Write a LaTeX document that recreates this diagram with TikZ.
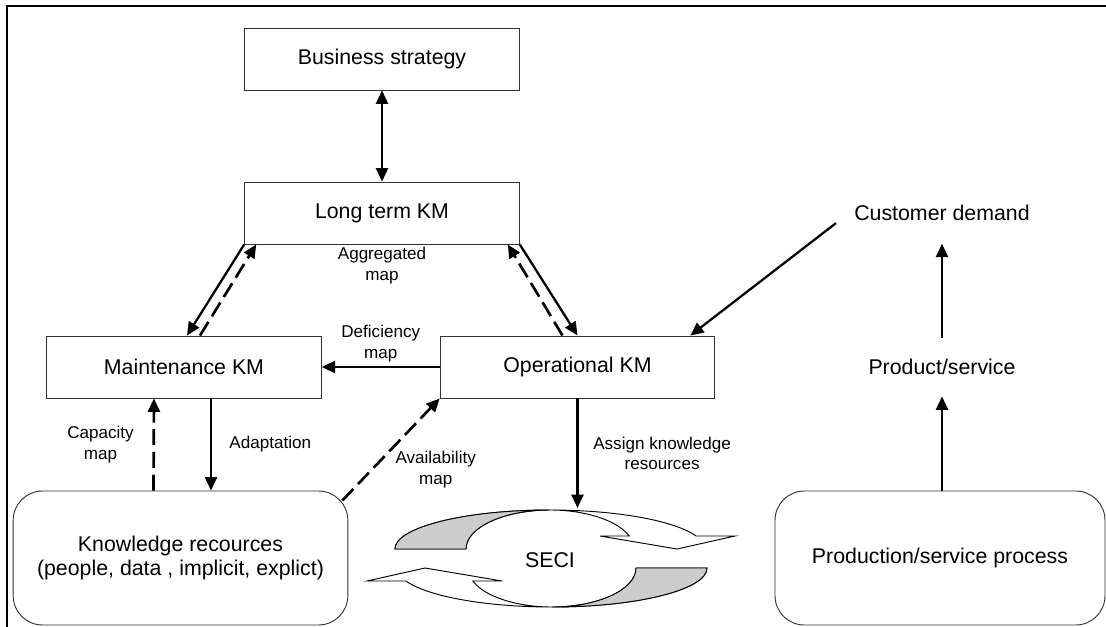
\documentclass[tikz,border=0pt]{standalone}
\usepackage{fontspec}
\setmainfont{Liberation Sans}
\usetikzlibrary{positioning,arrows.meta,calc}

\begin{document}
\begin{tikzpicture}[
  x=0.75pt, y=-0.75pt,
  every node/.style={font=\fontsize{12.8pt}{15.5pt}\selectfont},
  box/.style={rectangle, draw=black!80, line width=0.7pt,
              minimum width=206pt, minimum height=46.5pt,
              font=\fontsize{16pt}{18.5pt}\selectfont},
  rbox/.style={rectangle, draw=black!80, line width=0.7pt,
               rounded corners=22pt, minimum height=100.5pt,
               align=center, font=\fontsize{16pt}{18.5pt}\selectfont},
  txt/.style={font=\fontsize{16pt}{18.5pt}\selectfont, inner sep=0pt},
  lbl/.style={align=center, inner sep=1pt},
  flowarrow/.style={-{Triangle[length=10pt,width=9pt]}, line width=1.7pt},
  dblarrow/.style={{Triangle[length=10pt,width=9pt]}-{Triangle[length=10pt,width=9pt]}, line width=1.7pt},
  maparrow/.style={flowarrow, line width=2pt, dash pattern=on 12pt off 5pt},
  band/.style={draw=black, line width=0.7pt, fill=white}
]
\useasboundingbox (0,0) rectangle (1106,627);
\draw[line width=2.2pt] (7,627) -- (7,6) -- (1106,6);

\node[box]                        (bs)  at (382,59)    {Business strategy};
\node[box]                        (lt)  at (382,213)   {Long term KM};
\node[box]                        (mk)  at (184,367)   {Maintenance KM};
\node[box]                        (op)  at (577.5,367) {Operational KM};
\node[rbox, minimum width=251pt]  (kr)  at (180.5,558) {Knowledge recources\\(people, data , implicit, explict)};
\node[rbox, minimum width=247.5pt] (pp) at (940,558)   {Production/service process};
\node[txt]                        (cd)  at (942,213)   {Customer demand};
\node[txt]                        (ps)  at (942,367)   {Product/service};
\node[lbl, below=1pt of lt]       (agg)                {Aggregated\\map};

% SECI cycle: two curved arrows, the second turned half round
\foreach \ang in {0,180}{
  \begin{scope}[rotate around={\ang:(551,558.5)}]
    \draw[band] (395,549) arc[start angle=180, end angle=340.53, x radius=155, y radius=39]
      -- (735,536) -- (677,549) -- (600,536) -- (629.2,536)
      arc[start angle=340.53, end angle=180, x radius=84, y radius=39] -- cycle;
    \filldraw[band, fill=gray!40] (395,549)
      arc[start angle=180, end angle=270, x radius=155, y radius=39]
      arc[start angle=270, end angle=180, x radius=84, y radius=39] -- cycle;
  \end{scope}
}
\node[txt] (seci) at (550,560) {SECI};
\coordinate (secitop) at (577.5,508);

\draw[dblarrow] (bs) -- (lt);
\draw[flowarrow] (lt.south west) -- ([shift={(3,0)}]mk.north);
\draw[maparrow]  ([shift={(16,0)}]mk.north) -- ([shift={(12,0)}]lt.south west);
\draw[flowarrow] (lt.south east) -- (op.north);
\draw[maparrow]  ([shift={(-15,0)}]op.north) -- ([shift={(-12,0)}]lt.south east);
\draw[flowarrow] (op.west) -- node[lbl, above=2pt] {Deficiency\\map} (mk.east);
\draw[flowarrow] ([shift={(-18,2)}]cd.south west) -- ([shift={(-25,0)}]op.north east);
\draw[flowarrow, shorten <=16pt, shorten >=17pt] (ps) -- (cd);
\draw[flowarrow, shorten >=16pt] (ps.south |- pp.north) -- (ps.south);

\draw[flowarrow] (op.south) -- node[lbl, right=10pt] {Assign knowledge\\resources} (secitop);
\draw[maparrow]  ([shift={(-27,0)}]kr.north) -- node[lbl, left=13pt] {Capacity\\map} ([shift={(-30,0)}]mk.south);
\draw[flowarrow] ([shift={(27,0)}]mk.south) -- node[lbl, right=12pt] {Adaptation} ([shift={(30.5,0)}]kr.north);
\draw[maparrow]  ([shift={(-6,10)}]kr.north east) --
  node[lbl, pos=0.3, anchor=west, xshift=16pt] {Availability\\map} (op.south west);

\end{tikzpicture}
\end{document}
